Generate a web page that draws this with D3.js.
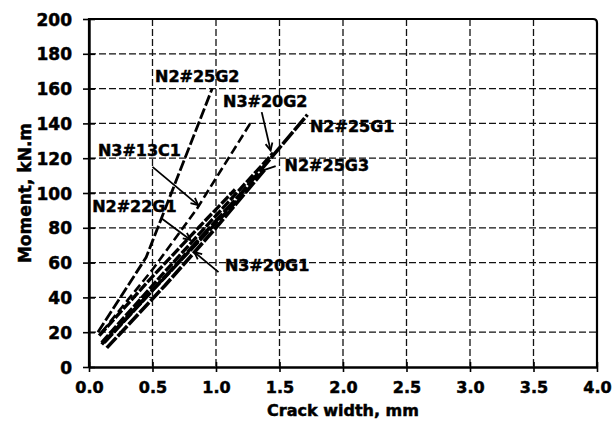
<!DOCTYPE html>
<html>
<head>
<meta charset="utf-8">
<script src="https://cdn.jsdelivr.net/npm/d3@7/dist/d3.min.js"></script>
<style>
  html, body { margin: 0; padding: 0; background: #fff; }
  svg { display: block; }
  text { font-family: "DejaVu Sans", "Liberation Sans", sans-serif; font-weight: bold; fill: #000; stroke: #000; stroke-width: 0.5px; }
</style>
</head>
<body>
<svg id="chart" width="615" height="426"></svg>
<script>
// Axis ticks
const crackTicks = [0, 0.5, 1.0, 1.5, 2.0, 2.5, 3.0, 3.5, 4.0];
const momentTicks = [0, 20, 40, 60, 80, 100, 120, 140, 160, 180, 200];

// Specimen names
const specimens = ["N2#25G2", "N3#13C1", "N2#22G1", "N3#20G1", "N2#25G3", "N3#20G2", "N2#25G1"];

// Crack width (mm) and moment (kN.m) for each specimen
const crackN2_25G2 = [0.07, 0.45, 0.97];
const momentN2_25G2 = [20, 63, 160];
const crackN3_13C1 = [0.1, 0.5, 0.85, 1.27];
const momentN3_13C1 = [20, 56, 91, 140];
const crackN2_22G1 = [0.08, 0.5, 0.9, 1.15];
const momentN2_22G1 = [18, 52, 83, 102];
const crackN3_20G1 = [0.12, 0.5, 0.9, 1.2];
const momentN3_20G1 = [14, 44, 75, 98];
const crackN2_25G3 = [0.14, 0.6, 1.0, 1.39];
const momentN2_25G3 = [11, 47, 80, 114];
const crackN3_20G2 = [0.1, 0.6, 1.1, 1.45];
const momentN3_20G2 = [14, 55, 95, 123];
const crackN2_25G1 = [0.1, 0.6, 1.2, 1.72];
const momentN2_25G1 = [13, 52, 100, 145];

// Label anchor (crack, moment) for each specimen
const labelCrack = [0.52, 0.07, 0.025, 1.07, 1.54, 1.055, 1.74];
const labelMoment = [164, 121, 89, 55, 112.5, 149.5, 135];

// Leader lines: start (crack, moment) -> end (crack, moment)
const leaderFromCrack = [0.50, 0.57, 1.02, 1.37, 1.36];
const leaderFromMoment = [115, 85.5, 54.5, 113, 146.5];
const leaderToCrack = [0.86, 0.80, 0.83, 1.47, 1.43];
const leaderToMoment = [93, 73, 66, 115.5, 124.5];
const leaderArrow = [true, true, true, false, true];

const seriesCrack = [crackN2_25G2, crackN3_13C1, crackN2_22G1, crackN3_20G1, crackN2_25G3, crackN3_20G2, crackN2_25G1];
const seriesMoment = [momentN2_25G2, momentN3_13C1, momentN2_22G1, momentN3_20G1, momentN2_25G3, momentN3_20G2, momentN2_25G1];
const seriesDash = ["11,3", "9,4", "10,2", "12,2", "14,2", "10,2", "16,2"];
const seriesWidth = [2.8, 2.6, 3.4, 3.4, 3.6, 3.4, 3.6];

const svg = d3.select("#chart");
const margin = { top: 19, right: 18, bottom: 59, left: 89 };
const W = 615, H = 426;
const x0 = margin.left, x1 = W - margin.right, y0 = H - margin.bottom, y1 = margin.top;

const x = d3.scaleLinear().domain([0, 4]).range([x0, x1]);
const y = d3.scaleLinear().domain([0, 200]).range([y0, y1]);

// Dashed grid
const grid = svg.append("g").attr("stroke", "#111").attr("stroke-width", 1.3).attr("stroke-dasharray", "7,3");
grid.selectAll("line.h").data(momentTicks.slice(1, -1)).join("line")
  .attr("x1", x0).attr("x2", x1).attr("y1", d => y(d)).attr("y2", d => y(d));
grid.selectAll("line.v").data(crackTicks.slice(1, -1)).join("line")
  .attr("class", "v")
  .attr("y1", y1).attr("y2", y0).attr("x1", d => x(d)).attr("x2", d => x(d));

// Plot frame with a slightly rounded upper-right corner
const r = 4;
svg.append("path")
  .attr("d", `M${x0},${y0} L${x0},${y1} L${x1 - r},${y1} Q${x1},${y1} ${x1},${y1 + r} L${x1},${y0}`)
  .attr("fill", "none").attr("stroke", "#000").attr("stroke-width", 2.2);

// Axes
const yAxis = d3.axisLeft(y).tickValues(momentTicks).tickSizeInner(6).tickSizeOuter(0).tickPadding(10);
const gy = svg.append("g").attr("transform", `translate(${x0},0)`).call(yAxis);
gy.selectAll(".tick line").attr("x2", -6).attr("x1", 6).attr("stroke-width", 1.6);
gy.selectAll(".tick text").attr("x", -17).attr("font-size", 17).attr("dy", "0.36em")
  .style("font-family", "DejaVu Sans").style("font-weight", "bold");
gy.select(".domain").attr("stroke-width", 2.4);

const xAxis = d3.axisBottom(x).tickValues(crackTicks).tickFormat(d3.format(".1f"))
  .tickSizeInner(5).tickSizeOuter(0).tickPadding(10);
const gx = svg.append("g").attr("transform", `translate(0,${y0})`).call(xAxis);
gx.selectAll(".tick line").attr("y1", -5).attr("y2", 5).attr("stroke-width", 1.6);
gx.selectAll(".tick text").attr("y", 15).attr("font-size", 16).attr("dy", "0.71em")
  .style("font-family", "DejaVu Sans").style("font-weight", "bold");
gx.select(".domain").attr("stroke-width", 2.4);

// Axis titles
svg.append("text").attr("x", (x0 + x1) / 2).attr("y", 416).attr("text-anchor", "middle")
  .attr("font-size", 16).text("Crack width, mm");
svg.append("text").attr("transform", `translate(31,${(y0 + y1) / 2}) rotate(-90)`)
  .attr("text-anchor", "middle").attr("font-size", 17).text("Moment, kN.m");

// Specimen curves
const line = d3.line().x(d => x(d[0])).y(d => y(d[1]));
const curves = svg.append("g").attr("fill", "none").attr("stroke", "#000").attr("stroke-linecap", "butt");
specimens.forEach((name, i) => {
  const pts = seriesCrack[i].map((c, k) => [c, seriesMoment[i][k]]);
  curves.append("path").datum(pts)
    .attr("d", line)
    .attr("stroke-width", seriesWidth[i])
    .attr("stroke-dasharray", seriesDash[i]);
});

// Leader lines with open arrowheads
const leaders = svg.append("g").attr("stroke", "#000").attr("stroke-width", 1.8).attr("fill", "none");
leaderFromCrack.forEach((c, i) => {
  const ax = x(c), ay = y(leaderFromMoment[i]);
  const bx = x(leaderToCrack[i]), by = y(leaderToMoment[i]);
  leaders.append("line").attr("x1", ax).attr("y1", ay).attr("x2", bx).attr("y2", by);
  if (leaderArrow[i]) {
    const ang = Math.atan2(by - ay, bx - ax);
    const L = 8, spread = 0.45;
    const p1 = [bx - L * Math.cos(ang - spread), by - L * Math.sin(ang - spread)];
    const p2 = [bx - L * Math.cos(ang + spread), by - L * Math.sin(ang + spread)];
    leaders.append("path").attr("d", `M${p1[0]},${p1[1]} L${bx},${by} L${p2[0]},${p2[1]}`);
  }
});

// Specimen labels
svg.append("g").selectAll("text").data(specimens).join("text")
  .attr("x", (d, i) => x(labelCrack[i]))
  .attr("y", (d, i) => y(labelMoment[i]))
  .attr("font-size", 16)
  .text(d => d);
</script>
</body>
</html>
